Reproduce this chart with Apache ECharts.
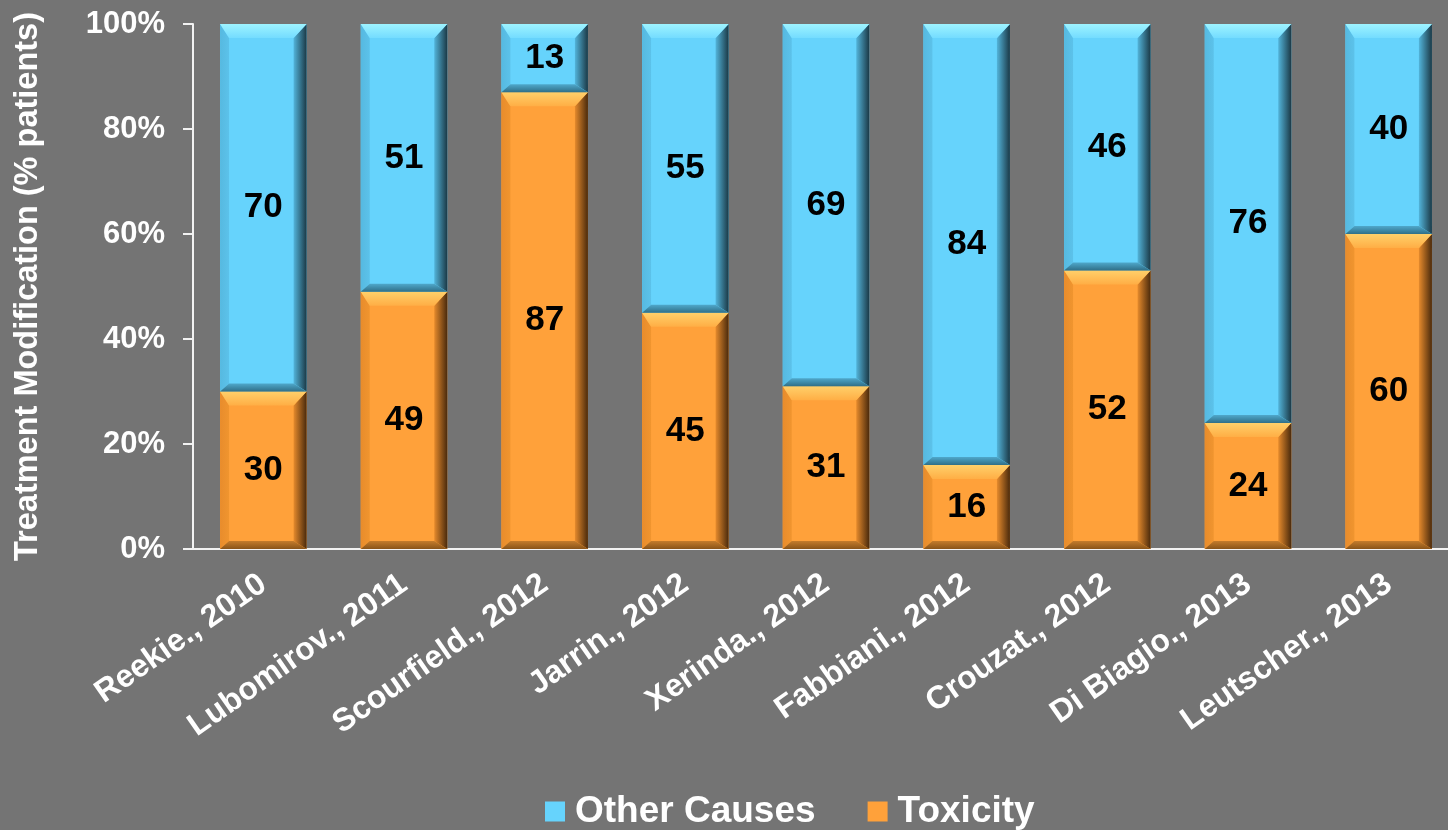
<!DOCTYPE html>
<html><head><meta charset="utf-8">
<script src="https://cdn.jsdelivr.net/npm/echarts@6/dist/echarts.min.js"></script>
<style>html,body{margin:0;padding:0;background:#747474;}#c{width:1448px;height:830px;}</style>
</head><body><div id="c"></div>
<script>
const categories = ['Reekie., 2010','Lubomirov., 2011','Scourfield., 2012','Jarrin., 2012','Xerinda., 2012','Fabbiani., 2012','Crouzat., 2012','Di Biagio., 2013','Leutscher., 2013'];
const toxicity = [30,49,87,45,31,16,52,24,60];
const otherCauses = [70,51,13,55,69,84,46,76,40];
const yTickLabels = ['0%','20%','40%','60%','80%','100%'];
const seriesNames = ['Other Causes','Toxicity'];

const totals = toxicity.map((v,i)=>v+otherCauses[i]);
const toxPct = toxicity.map((v,i)=>v/totals[i]*100);
const otherPct = otherCauses.map((v,i)=>v/totals[i]*100);

const FONT = "Arial, 'Liberation Sans', sans-serif";
const BAR_RATIO = 0.615;
const LG = echarts.graphic.LinearGradient;

const palettes = {
  blue: {main:'#66d3fc', top:['#9ef3ff','#74dcff'], left:['#5cc2ea','#56b9e0'], right:['#52b4da','#1b3946'], bottom:['#4fa8cb','#2f6f88']},
  orange: {main:'#ffa13a', top:['#ffd06a','#ffae45'], left:['#f0952f','#e88c2c'], right:['#e58a2c','#4a2a0c'], bottom:['#c47c2c','#8a5418']}
};

function makeBevel(pal){
  return function(params, api){
    const x = api.value(0);
    const p0 = api.coord([x, api.value(1)]);
    const p1 = api.coord([x, api.value(2)]);
    const w = api.size([1,0])[0]*BAR_RATIO;
    const l = p0[0]-w/2, r = p0[0]+w/2, b = p0[1], t = p1[1];
    const dt = 14, db = 8, dl = 9, dr = 13;
    return {type:'group', children:[
      {type:'polygon', shape:{points:[[l,t],[l+dl,t+dt],[l+dl,b-db],[l,b]]}, style:{fill:new LG(0,0,1,0,[{offset:0,color:pal.left[1]},{offset:1,color:pal.left[0]}])}},
      {type:'polygon', shape:{points:[[r,t],[r,b],[r-dr,b-db],[r-dr,t+dt]]}, style:{fill:new LG(0,0,1,0,[{offset:0,color:pal.right[0]},{offset:1,color:pal.right[1]}])}},
      {type:'polygon', shape:{points:[[l,b],[r,b],[r-dr,b-db],[l+dl,b-db]]}, style:{fill:new LG(0,0,0,1,[{offset:0,color:pal.bottom[0]},{offset:1,color:pal.bottom[1]}])}},
      {type:'polygon', shape:{points:[[l,t],[r,t],[r-dr,t+dt],[l+dl,t+dt]]}, style:{fill:new LG(0,0,0,1,[{offset:0,color:pal.top[0]},{offset:1,color:pal.top[1]}])}}
    ]};
  };
}

const chart = echarts.init(document.getElementById('c'), null, {renderer:'canvas'});
chart.setOption({
  backgroundColor:'#747474',
  animation:false,
  textStyle:{fontFamily:FONT},
  grid:{left:193, right:-11, top:24, bottom:281, outerBoundsMode:'none', containLabel:false},
  legend:{
    data:seriesNames, left:540, top:788, itemWidth:20, itemHeight:20, itemGap:52,
    icon:'rect',
    textStyle:{color:'#ffffff', fontSize:37, fontWeight:'bold', fontFamily:FONT, padding:[0,0,0,5]}
  },
  xAxis:{
    type:'category', data:categories,
    axisLine:{lineStyle:{color:'#f2f2f2', width:2}},
    axisTick:{length:8, lineStyle:{color:'#f2f2f2', width:2}},
    axisLabel:{rotate:35, margin:32, color:'#ffffff', fontSize:32, fontWeight:'bold', fontFamily:FONT, interval:0}
  },
  yAxis:{
    type:'value', min:0, max:100, interval:20,
    name:'Treatment Modification (% patients)', nameLocation:'middle', nameGap:148,
    nameTextStyle:{color:'#ffffff', fontSize:32.5, fontWeight:'bold', fontFamily:FONT},
    axisLine:{show:true, lineStyle:{color:'#f2f2f2', width:2}},
    axisTick:{show:true, length:10, lineStyle:{color:'#f2f2f2', width:2}},
    splitLine:{show:false},
    axisLabel:{margin:28, color:'#ffffff', fontSize:31, fontWeight:'bold', fontFamily:FONT,
      formatter:(v)=>yTickLabels[Math.round(v/20)]}
  },
  series:[
    {name:'Toxicity', type:'bar', stack:'s', barWidth:(BAR_RATIO*100)+'%', data:toxPct, z:2,
     itemStyle:{color:palettes.orange.main},
     label:{show:true, position:'inside', color:'#000', fontSize:35, fontWeight:'bold', fontFamily:FONT,
       formatter:(p)=>String(toxicity[p.dataIndex])}},
    {name:'Other Causes', type:'bar', stack:'s', barWidth:(BAR_RATIO*100)+'%', data:otherPct, z:2,
     itemStyle:{color:palettes.blue.main},
     label:{show:true, position:'inside', color:'#000', fontSize:35, fontWeight:'bold', fontFamily:FONT,
       formatter:(p)=>String(otherCauses[p.dataIndex])}},
    {name:'bevelTox', type:'custom', silent:true, z:5, renderItem:makeBevel(palettes.orange),
     encode:{x:0, y:[1,2]}, data:toxPct.map((v,i)=>[i,0,v])},
    {name:'bevelOther', type:'custom', silent:true, z:5, renderItem:makeBevel(palettes.blue),
     encode:{x:0, y:[1,2]}, data:otherPct.map((v,i)=>[i,toxPct[i],100])}
  ]
});
</script></body></html>
